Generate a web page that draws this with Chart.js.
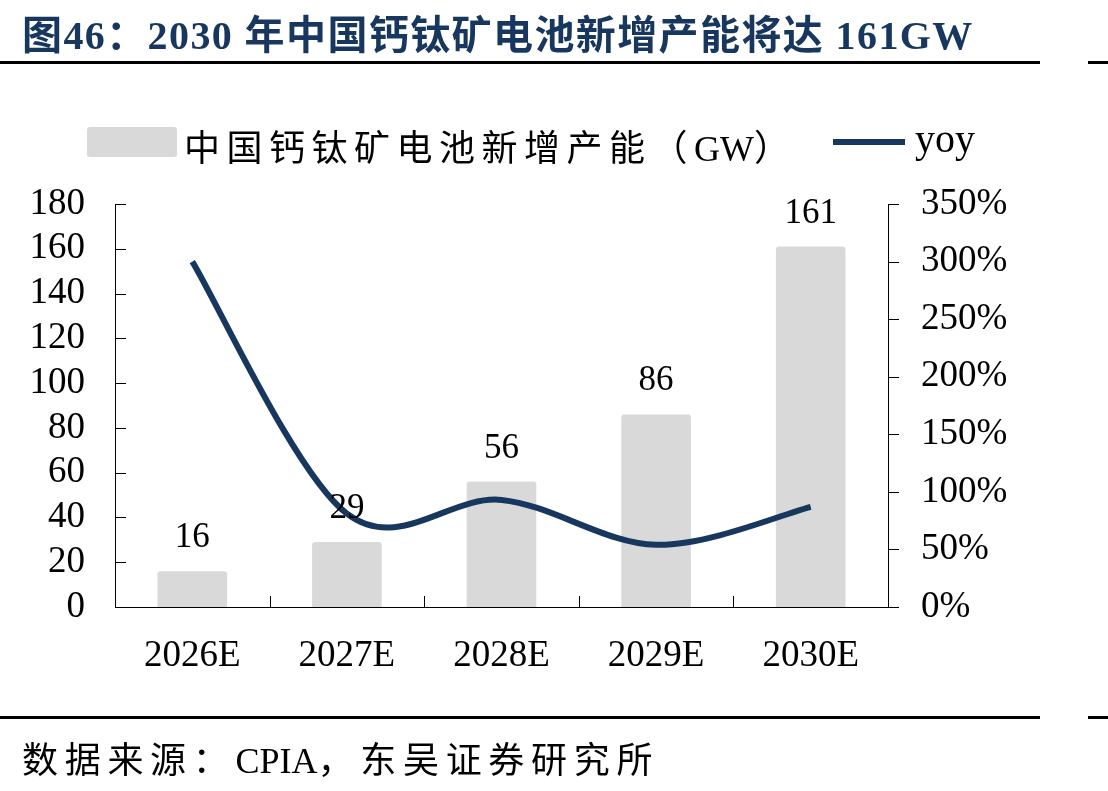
<!DOCTYPE html>
<html>
<head>
<meta charset="utf-8">
<script src="https://cdn.jsdelivr.net/npm/chart.js@4.4.1/dist/chart.umd.min.js"></script>
<style>
  html, body { margin: 0; padding: 0; background: #fff; }
  #page { position: relative; width: 1108px; height: 791px; overflow: hidden; }
  #title { position: absolute; left: 22px; top: 3px; font: bold 40px "Liberation Serif", "Noto Sans CJK SC"; letter-spacing: 1.4px; color: #17375e; white-space: nowrap; }
  .rule { position: absolute; height: 3px; background: #000; }
  .lat { letter-spacing: 0; }
  #legend { position: absolute; top: 118px; left: 87px; height: 50px; color: #000; white-space: nowrap; }
  #legend .box { position: absolute; left: 0; top: 9px; width: 90px; height: 30px; background: #d9d9d9; border-radius: 3px; }
  #legend .t1 { position: absolute; left: 97px; top: 1px; font: 36px "Liberation Serif", "Noto Sans CJK SC"; letter-spacing: 6.5px; }
  #legend .ln { position: absolute; left: 746px; top: 21px; width: 72px; height: 6px; background: #17375e; }
  #legend .t2 { position: absolute; left: 828px; top: -3px; font: 40px "Liberation Serif"; }
  #wrap { position: absolute; left: 0; top: 0; width: 1108px; height: 791px; }
  #source { position: absolute; left: 22px; top: 731px; font: 36px "Liberation Serif", "Noto Sans CJK SC"; letter-spacing: 6.7px; color: #000; white-space: nowrap; }
</style>
</head>
<body>
<div id="page">
  <div id="wrap"><canvas id="c"></canvas></div>
  <div id="title">图46：2030 年中国钙钛矿电池新增产能将达 161GW</div>
  <div class="rule" style="top:61px;left:0;width:1040px"></div>
  <div class="rule" style="top:61px;left:1088px;width:20px"></div>
  <div id="legend">
    <div class="box"></div>
    <div class="t1">中国钙钛矿电池新增产能（<span class="lat">GW</span>）</div>
    <div class="ln"></div>
    <div class="t2">yoy</div>
  </div>
  <div class="rule" style="top:716px;left:0;width:1040px"></div>
  <div class="rule" style="top:716px;left:1088px;width:20px"></div>
  <div id="source">数据来源：<span class="lat">CPIA</span>，东吴证券研究所</div>
</div>
<script>
// data
const years = ['2026E', '2027E', '2028E', '2029E', '2030E'];
const capacityGW = [16, 29, 56, 86, 161];
const yoyPct = [300, 81, 93, 54, 87];

const SERIF = '"Liberation Serif", "Times New Roman", serif';
const NAVY = '#17375e';

// inward ticks on left and bottom, outward on right (like the Excel original)
const axisTicks = {
  id: 'axisTicks',
  afterDraw(chart) {
    const { ctx, scales } = chart;
    const x = scales.x, y = scales.y, y1 = scales.y1;
    ctx.save();
    ctx.strokeStyle = '#000';
    ctx.lineWidth = 1;
    ctx.beginPath();
    y.ticks.forEach(t => {
      const py = Math.round(y.getPixelForValue(t.value)) + 0.5;
      ctx.moveTo(y.right, py);
      ctx.lineTo(y.right + 11, py);
    });
    y1.ticks.forEach(t => {
      const py = Math.round(y1.getPixelForValue(t.value)) + 0.5;
      ctx.moveTo(y1.left, py);
      ctx.lineTo(y1.left + 11, py);
    });
    for (let i = 1; i < years.length; i++) {
      const px = Math.round((x.getPixelForValue(i - 1) + x.getPixelForValue(i)) / 2) + 0.5;
      ctx.moveTo(px, x.top);
      ctx.lineTo(px, x.top - 11);
    }
    ctx.stroke();
    ctx.restore();
  }
};

// Excel-style smoothing: catmull-rom tangents (next - prev) / 6
const excelSmooth = {
  id: 'excelSmooth',
  beforeDatasetDraw(chart, args) {
    const meta = args.meta;
    if (meta.type !== 'line') return;
    meta.dataset.updateControlPoints(chart.chartArea, 'x');
    const pts = meta.data;
    pts.forEach((p, i) => {
      const prev = pts[i - 1] || p;
      const next = pts[i + 1] || p;
      const dx = (next.x - prev.x) / 6;
      const dy = (next.y - prev.y) / 6;
      p.cp1x = p.x - dx; p.cp1y = p.y - dy;
      p.cp2x = p.x + dx; p.cp2y = p.y + dy;
    });
    meta.dataset._path = undefined;
  }
};

// numbers above the bars
const barLabels = {
  id: 'barLabels',
  afterDatasetsDraw(chart) {
    const { ctx } = chart;
    const meta = chart.getDatasetMeta(1);
    ctx.save();
    ctx.font = '35px ' + SERIF;
    ctx.fillStyle = '#000';
    ctx.textAlign = 'center';
    ctx.textBaseline = 'alphabetic';
    meta.data.forEach((bar, i) => {
      ctx.fillText(String(capacityGW[i]), bar.x, bar.y - 24);
    });
    ctx.restore();
  }
};

new Chart(document.getElementById('c'), {
  data: {
    labels: years,
    datasets: [
      {
        type: 'line',
        label: 'yoy',
        data: yoyPct,
        yAxisID: 'y1',
        borderColor: NAVY,
        borderWidth: 6,
        pointRadius: 0,
        tension: 0.4,
        fill: false,
        order: 0
      },
      {
        type: 'bar',
        label: '中国钙钛矿电池新增产能（GW）',
        data: capacityGW,
        yAxisID: 'y',
        backgroundColor: '#d9d9d9',
        borderRadius: 3,
        borderSkipped: 'bottom',
        categoryPercentage: 1,
        barPercentage: 0.45,
        order: 1
      }
    ]
  },
  options: {
    responsive: true,
    maintainAspectRatio: false,
    animation: false,
    layout: { padding: { top: 204, left: 0, right: 0, bottom: 0 } },
    plugins: { legend: { display: false }, tooltip: { enabled: false } },
    scales: {
      x: {
        afterFit(s) { s.height = 184; },
        grid: { display: false, drawTicks: false },
        border: { display: true, color: '#000', width: 1 },
        ticks: { color: '#000', font: { family: SERIF, size: 37 }, padding: 27 }
      },
      y: {
        position: 'left',
        min: 0, max: 180,
        afterFit(s) { s.width = 115; },
        grid: { display: false, drawTicks: false },
        border: { display: true, color: '#000', width: 1 },
        ticks: { stepSize: 20, autoSkip: false, color: '#000', font: { family: SERIF, size: 37 }, padding: 30 }
      },
      y1: {
        position: 'right',
        min: 0, max: 350,
        afterFit(s) { s.width = 220; },
        grid: { display: false, drawTicks: false },
        border: { display: true, color: '#000', width: 1 },
        ticks: {
          stepSize: 50, autoSkip: false, color: '#000', font: { family: SERIF, size: 37 }, padding: 33,
          callback: v => v + '%'
        }
      }
    }
  },
  plugins: [axisTicks, excelSmooth, barLabels]
});
</script>
</body>
</html>
